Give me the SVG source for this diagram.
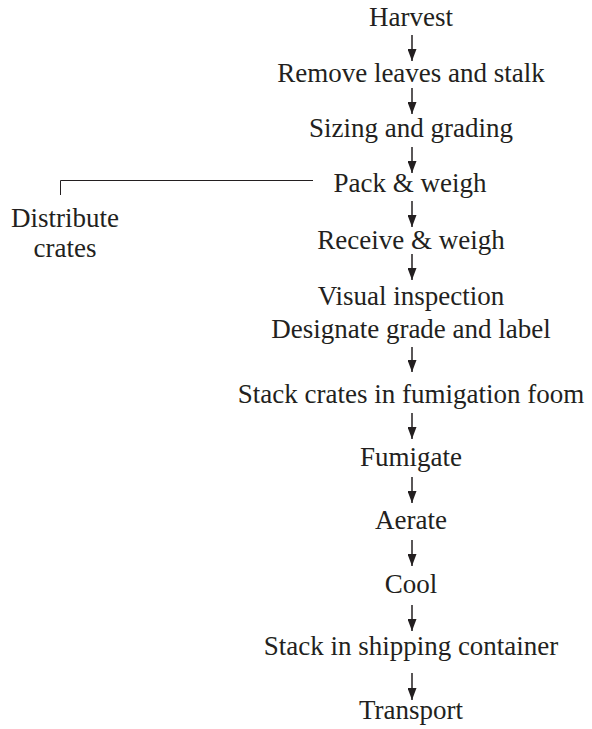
<svg xmlns="http://www.w3.org/2000/svg" width="592" height="729" viewBox="0 0 592 729">
  <style>
    .lbl { font-family: "Liberation Serif", "Times New Roman", serif; font-size: 27px; fill: #231f20; text-anchor: middle; }
    .arr { stroke: #231f20; stroke-width: 1.5; fill: none; marker-end: url(#head); }
    .ln { stroke: #231f20; stroke-width: 1; fill: none; }
  </style>
  <defs>
    <!-- solid triangular arrowhead, drawn along +x so orient="auto" points it down the shaft -->
    <marker id="head" markerWidth="12" markerHeight="9" refX="12" refY="4.5" orient="auto" markerUnits="userSpaceOnUse">
      <path d="M0,0 L12,4.5 L0,9 Z" fill="#231f20"/>
    </marker>
  </defs>
  <rect width="592" height="729" fill="#ffffff"/>

  <g id="connectors">
    <line class="arr" x1="412" y1="35" x2="412" y2="61"/>
    <line class="arr" x1="412" y1="88" x2="412" y2="114"/>
    <line class="arr" x1="412" y1="147" x2="412" y2="173"/>
    <line class="arr" x1="412" y1="201" x2="412" y2="227"/>
    <line class="arr" x1="412" y1="254" x2="412" y2="280"/>
    <line class="arr" x1="412" y1="347" x2="412" y2="372"/>
    <line class="arr" x1="412" y1="413" x2="412" y2="439"/>
    <line class="arr" x1="412" y1="477" x2="412" y2="503"/>
    <line class="arr" x1="412" y1="540" x2="412" y2="566"/>
    <line class="arr" x1="412" y1="605" x2="412" y2="631"/>
    <line class="arr" x1="412" y1="673" x2="412" y2="700"/>
    <path class="ln" d="M313,180.5 H60.5 V195"/>
  </g>

  <g id="harvest"><text class="lbl" x="411" y="25.5">Harvest</text></g>
  <g id="remove"><text class="lbl" x="411" y="82">Remove leaves and stalk</text></g>
  <g id="sizing"><text class="lbl" x="411" y="137">Sizing and grading</text></g>
  <g id="pack"><text class="lbl" x="410" y="192">Pack &amp; weigh</text></g>
  <g id="distribute">
    <text class="lbl" x="65" y="227">Distribute</text>
    <text class="lbl" x="65" y="257">crates</text>
  </g>
  <g id="receive"><text class="lbl" x="411" y="249">Receive &amp; weigh</text></g>
  <g id="inspect">
    <text class="lbl" x="411" y="305">Visual inspection</text>
    <text class="lbl" x="411" y="338">Designate grade and label</text>
  </g>
  <g id="stack-room"><text class="lbl" x="411" y="403">Stack crates in fumigation foom</text></g>
  <g id="fumigate"><text class="lbl" x="411" y="466">Fumigate</text></g>
  <g id="aerate"><text class="lbl" x="411" y="529">Aerate</text></g>
  <g id="cool"><text class="lbl" x="411" y="593">Cool</text></g>
  <g id="stack-ship"><text class="lbl" x="411" y="655">Stack in shipping container</text></g>
  <g id="transport"><text class="lbl" x="411" y="719">Transport</text></g>
</svg>
